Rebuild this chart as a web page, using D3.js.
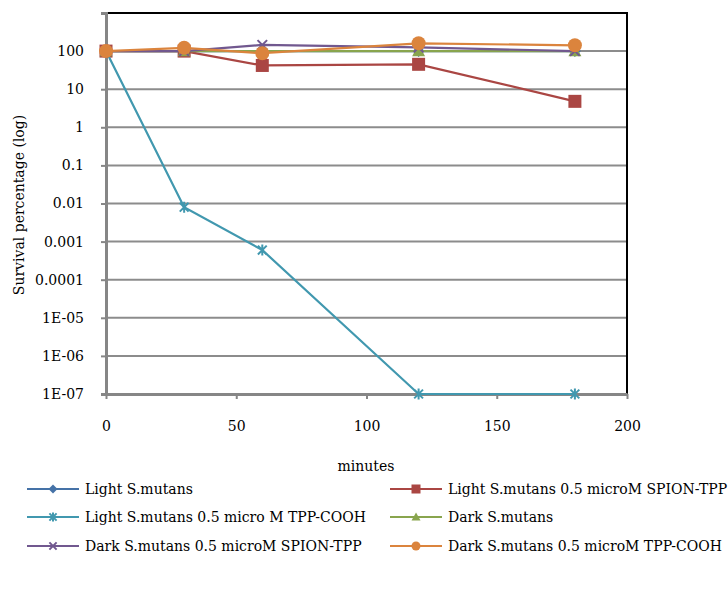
<!DOCTYPE html>
<html><head><meta charset="utf-8">
<script src="https://cdn.jsdelivr.net/npm/d3@7"></script>
<style>body{margin:0;background:#fff}svg{display:block}text{font-family:"DejaVu Serif",serif;fill:#000}</style>
</head><body><svg id="c" width="728" height="589"></svg>
<script>
const minutes = [0, 30, 60, 120, 180];
const seriesNames = ["Light S.mutans","Light S.mutans 0.5 microM SPION-TPP","Light S.mutans 0.5 micro M TPP-COOH","Dark S.mutans","Dark S.mutans 0.5 microM SPION-TPP","Dark S.mutans 0.5 microM TPP-COOH"];
const lightWT = [100, 100, 100, 100, 100];
const lightSPION = [100, 100, 42, 45, 4.8];
const lightCOOH = [100, 0.008, 0.0006, 1e-7, 1e-7];
const darkWT = [100, 100, 100, 100, 100];
const darkSPION = [100, 100, 145, 125, 100];
const darkCOOH = [100, 122, 88, 160, 142];
const yTicks = [1e-7,1e-6,1e-5,1e-4,1e-3,1e-2,0.1,1,10,100,1000];
const yTickLabels = ["1E-07","1E-06","1E-05","0.0001","0.001","0.01","0.1","1","10","100",""];
const xTicks = [0,50,100,150,200];

const colors = ["#4572A7","#AA4643","#4198AF","#89A54E","#71588F","#DB843D"];
const markers = ["diamond","square","star","triangle","x","circle"];
const values = [lightWT, lightSPION, lightCOOH, darkWT, darkSPION, darkCOOH];
const FONT = "DejaVu Serif";
const FS = "14px";

const svg = d3.select("#c");
const L=106,R=627,T=13,B=394;
const x = d3.scaleLinear().domain([0,200]).range([L,R]);
const y = d3.scaleLog().domain([1e-7,1000]).range([B,T]);

svg.append("g").selectAll("line").data(yTicks.slice(1,-1)).join("line")
  .attr("x1",L).attr("x2",R).attr("y1",d=>y(d)).attr("y2",d=>y(d))
  .attr("stroke","#8c8c8c").attr("stroke-width",2);
svg.append("line").attr("x1",L).attr("x2",R+1).attr("y1",T).attr("y2",T).attr("stroke","#000").attr("stroke-width",2);
svg.append("line").attr("x1",R).attr("x2",R).attr("y1",T).attr("y2",B).attr("stroke","#000").attr("stroke-width",2);

const yAxis = d3.axisLeft(y).tickValues(yTicks).tickFormat((d,i)=>yTickLabels[i]).tickSize(5).tickPadding(17);
const gy = svg.append("g").attr("transform",`translate(${L},0)`).call(yAxis);
gy.attr("font-family",FONT).attr("font-size",FS);
gy.select(".domain").attr("stroke","#868686").attr("stroke-width",3);
gy.selectAll(".tick line").attr("stroke","#868686").attr("stroke-width",2);
gy.selectAll(".tick text").attr("fill","#000");

const xAxis = d3.axisBottom(x).tickValues(xTicks).tickSize(5).tickPadding(22).tickSizeOuter(0);
const gx = svg.append("g").attr("transform",`translate(0,${B})`).call(xAxis);
gx.attr("font-family",FONT).attr("font-size",FS);
gx.select(".domain").attr("stroke","#868686").attr("stroke-width",3);
gx.selectAll(".tick line").attr("stroke","#868686").attr("stroke-width",2);
gx.selectAll(".tick text").attr("fill","#000");

svg.append("text").attr("x",366).attr("y",471).attr("text-anchor","middle").style("font-size",FS).text("minutes");
svg.append("text").attr("transform","translate(24,205) rotate(-90)").attr("text-anchor","middle").style("font-size",FS).text("Survival percentage (log)");

function drawMarker(g, type, cx, cy, s, color){
  const h=s/2;
  if(type==="diamond"){
    g.append("path").attr("d",`M${cx},${cy-h}L${cx+h},${cy}L${cx},${cy+h}L${cx-h},${cy}Z`).attr("fill",color);
  } else if(type==="square"){
    g.append("rect").attr("x",cx-h).attr("y",cy-h).attr("width",s).attr("height",s).attr("fill",color);
  } else if(type==="triangle"){
    g.append("path").attr("d",`M${cx},${cy-h}L${cx+h},${cy+h*0.8}L${cx-h},${cy+h*0.8}Z`).attr("fill",color);
  } else if(type==="circle"){
    g.append("circle").attr("cx",cx).attr("cy",cy).attr("r",h).attr("fill",color);
  } else if(type==="x"){
    const a=h*0.8;
    g.append("path").attr("d",`M${cx-a},${cy-a}L${cx+a},${cy+a}M${cx-a},${cy+a}L${cx+a},${cy-a}`).attr("stroke",color).attr("stroke-width",2).attr("fill","none");
  } else if(type==="star"){
    const a=h*0.8;
    g.append("path").attr("d",`M${cx-a},${cy-a}L${cx+a},${cy+a}M${cx-a},${cy+a}L${cx+a},${cy-a}M${cx},${cy-h}L${cx},${cy+h}`).attr("stroke",color).attr("stroke-width",2).attr("fill","none");
  }
}

const line = d3.line().x((d,i)=>x(minutes[i])).y(d=>y(d));
values.forEach((vals,si)=>{
  const g = svg.append("g");
  g.append("path").datum(vals).attr("d",line).attr("fill","none").attr("stroke",colors[si]).attr("stroke-width",2.2);
  const ms = {diamond:12,square:13,star:11,triangle:13,x:12,circle:14}[markers[si]];
  vals.forEach((v,i)=>drawMarker(g, markers[si], x(minutes[i]), y(v), ms, colors[si]));
});

const legendPos = [[27,489],[390,489],[27,517],[390,517],[27,546],[390,546]];
seriesNames.forEach((n,i)=>{
  const [lx,ly]=legendPos[i];
  const g=svg.append("g");
  g.append("line").attr("x1",lx).attr("x2",lx+52).attr("y1",ly).attr("y2",ly).attr("stroke",colors[i]).attr("stroke-width",2.2);
  drawMarker(g, markers[i], lx+26, ly, 9, colors[i]);
  g.append("text").attr("x",lx+58).attr("y",ly+5).style("font-size",FS).text(n);
});
</script></body></html>
